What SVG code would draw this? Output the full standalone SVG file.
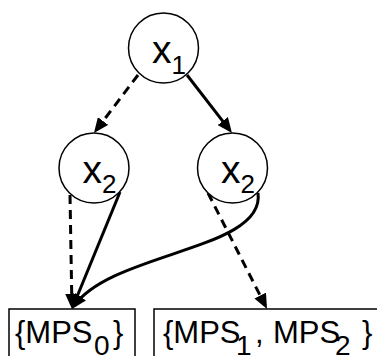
<svg xmlns="http://www.w3.org/2000/svg" width="377" height="356" viewBox="0 0 377 356">
<style>
.node{fill:#fff;stroke:#000;stroke-width:1.5}
.box{fill:#fff;stroke:#000;stroke-width:1.5}
.lbl{font-family:"Liberation Sans",Arial,sans-serif;fill:#000}
.big{font-size:39px}
.sub{font-size:26px}
.bt{font-size:31px}
.bs{font-size:28px}
.edge{fill:none;stroke:#000;stroke-width:3;marker-end:url(#ah)}
.dash{stroke-dasharray:9,6}
</style>
<defs>
<marker id="ah" markerUnits="userSpaceOnUse" markerWidth="15" markerHeight="13" refX="11" refY="6.5" orient="auto">
<path d="M0,0 L15,6.5 L0,13 z" fill="#000"/>
</marker>
</defs>
<rect width="377" height="356" fill="#fff"/>
<g id="connectors">
<line class="edge dash" x1="138" y1="75" x2="96.4" y2="129.8"/>
<line class="edge" x1="187" y1="75" x2="229.5" y2="129.8"/>
<line class="edge dash" x1="70" y1="195" x2="71.9" y2="305"/>
<line class="edge" x1="120" y1="192" x2="73.5" y2="305.3"/>
<path class="edge" d="M258,193 C266,250 112,252 74.3,305.7"/>
<line class="edge dash" x1="208" y1="193" x2="265.2" y2="305.4"/>
</g>
<g id="n1">
<circle class="node" cx="163.5" cy="48" r="35"/>
<text class="lbl"><tspan class="big" x="152" y="63">x</tspan><tspan class="sub" x="171.5" y="74">1</tspan></text>
</g>
<g id="n2">
<circle class="node" cx="94" cy="168" r="35"/>
<text class="lbl"><tspan class="big" x="82.5" y="183">x</tspan><tspan class="sub" x="102" y="193">2</tspan></text>
</g>
<g id="n3">
<circle class="node" cx="232.5" cy="168" r="35"/>
<text class="lbl"><tspan class="big" x="221" y="183">x</tspan><tspan class="sub" x="240.5" y="193">2</tspan></text>
</g>
<g id="b0">
<rect class="box" x="9" y="309" width="126" height="60"/>
<text class="lbl"><tspan class="bt" x="15" y="343">{MPS</tspan><tspan class="bs" x="94" y="355">0</tspan><tspan class="bt" x="113" y="343">}</tspan></text>
</g>
<g id="b12">
<rect class="box" x="154" y="309" width="240" height="60"/>
<text class="lbl"><tspan class="bt" x="163" y="343">{MPS</tspan><tspan class="bs" x="236" y="355">1</tspan><tspan class="bt" x="255" y="343">,</tspan><tspan class="bt" x="273" y="343">MPS</tspan><tspan class="bs" x="335" y="355">2</tspan><tspan class="bt" x="362" y="343">}</tspan></text>
</g>
</svg>
